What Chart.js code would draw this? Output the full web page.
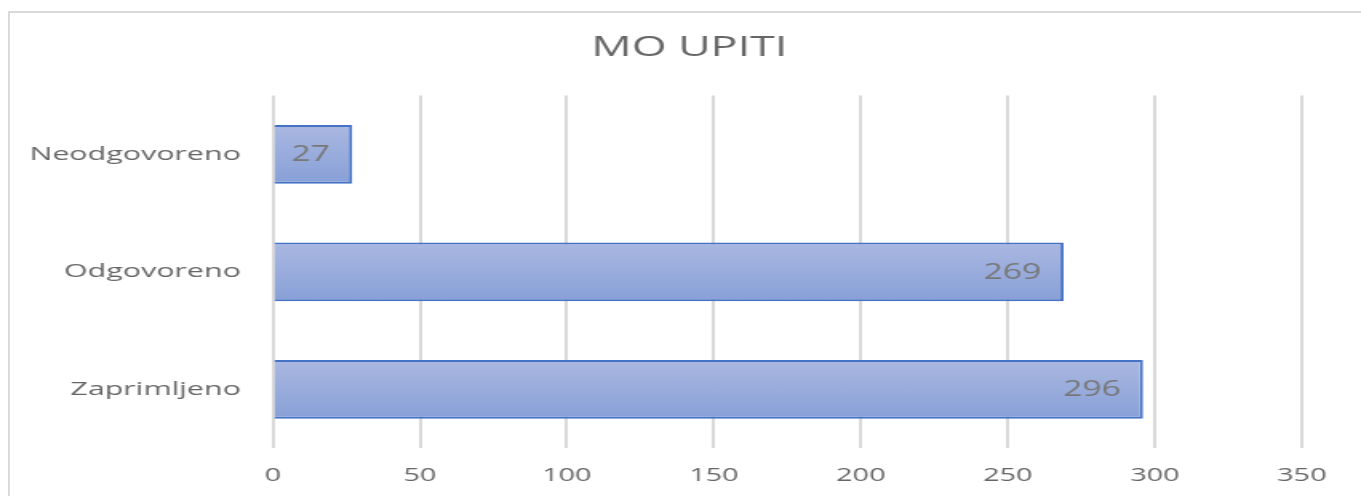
<!DOCTYPE html>
<html>
<head>
<meta charset="utf-8">
<script src="https://cdn.jsdelivr.net/npm/chart.js@4"></script>
<style>
  html, body { margin: 0; padding: 0; background: #fff; overflow: hidden; }
  #frame { position: absolute; left: 8px; top: 11px; width: 1400px; height: 520px; border: 2px solid #d9d9d9; }
  #myChart { position: absolute; left: 0; top: 0; }
</style>
</head>
<body>
<div id="frame"></div>
<canvas id="myChart" width="851" height="496" style="width:1361px;height:496px"></canvas>
<script>
const categories = ['Neodgovoreno', 'Odgovoreno', 'Zaprimljeno'];
const values = [27, 269, 296];
const tickValues = [0, 50, 100, 150, 200, 250, 300, 350];

const textColor = '#666666';
const fontFamily = "'Open Sans', 'Liberation Sans', sans-serif";

// vertical gradient per bar, built from the y scale
function barFill(c) {
  const chart = c.chart;
  const y = chart.scales.y;
  if (!y || c.dataIndex === undefined) return '#97abdc';
  const mid = y.getPixelForValue(c.dataIndex);
  if (!isFinite(mid)) return '#97abdc';
  const half = 29;
  const g = chart.ctx.createLinearGradient(0, mid - half, 0, mid + half);
  g.addColorStop(0, '#aab8e1');
  g.addColorStop(1, '#88a0d7');
  return g;
}

const valueLabels = {
  id: 'valueLabels',
  afterDatasetsDraw(chart) {
    const ctx = chart.ctx;
    const meta = chart.getDatasetMeta(0);
    ctx.save();
    ctx.font = '21px ' + fontFamily;
    ctx.fillStyle = '#777777';
    ctx.textAlign = 'right';
    ctx.textBaseline = 'middle';
    meta.data.forEach((bar, i) => {
      ctx.fillText(String(values[i]), bar.x - 14, bar.y + 1);
    });
    ctx.restore();
  }
};

// centre the title on the whole canvas, not on the padded area
const titleWide = {
  id: 'titleWide',
  afterLayout(chart) {
    if (chart.titleBlock) {
      chart.titleBlock.left = 11;
      chart.titleBlock.right = chart.width;
    }
  }
};

const ctx = document.getElementById('myChart');

new Chart(ctx, {
  type: 'bar',
  data: {
    labels: categories,
    datasets: [{
      data: values,
      backgroundColor: barFill,
      borderColor: '#4472c4',
      borderWidth: 2,
      barPercentage: 0.5,
      categoryPercentage: 1
    }]
  },
  options: {
    indexAxis: 'y',
    responsive: false,
    animation: false,
    layout: { padding: { top: 0, right: 37, left: 0, bottom: 0 } },
    plugins: {
      legend: { display: false },
      tooltip: { enabled: false },
      title: {
        display: true,
        text: 'MO UPITI',
        color: textColor,
        font: { family: fontFamily, size: 28, weight: 'normal' },
        padding: { top: 31, bottom: 31 }
      }
    },
    scales: {
      x: {
        min: 0,
        max: 350,
        afterBuildTicks(scale) {
          scale.ticks = tickValues.map(v => ({ value: v }));
        },
        afterFit(scale) { scale.height = 48; },
        grid: { color: '#d9d9d9', lineWidth: 2, drawTicks: false },
        border: { display: false },
        ticks: { color: textColor, padding: 17, font: { family: fontFamily, size: 18 } }
      },
      y: {
        afterFit(scale) { scale.width = 170.6; },
        grid: { display: false, drawTicks: false },
        border: { display: false },
        ticks: { color: textColor, padding: 20, font: { family: fontFamily, size: 19 } }
      }
    }
  },
  plugins: [valueLabels, titleWide]
});
</script>
</body>
</html>
